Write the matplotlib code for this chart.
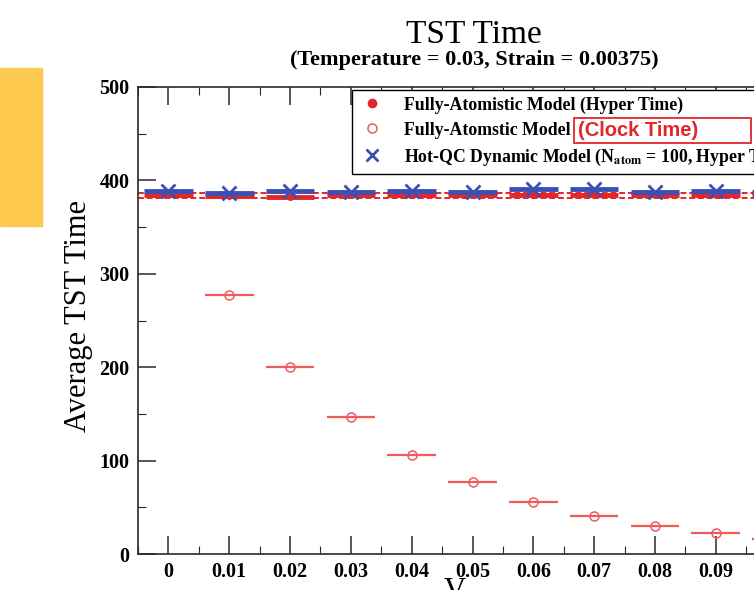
import numpy as np
import matplotlib.pyplot as plt
from matplotlib.patches import Rectangle
from matplotlib.ticker import MultipleLocator

# data
v = [0.0, 0.01, 0.02, 0.03, 0.04, 0.05, 0.06, 0.07, 0.08, 0.09, 0.10]
hyper_time = [384, 383, 382, 384, 384, 384, 384, 384, 384, 384, 384]
clock_v = [0.01, 0.02, 0.03, 0.04, 0.05, 0.06, 0.07, 0.08, 0.09, 0.10]
clock_time = [277, 200, 147, 106, 77, 56, 41, 30, 22, 16]
qc_time = [389, 387, 389, 388, 389, 388, 391, 391, 388, 389, 388]
band = [381, 386]
half_bin = 0.004
xtick_labels = ['0', '0.01', '0.02', '0.03', '0.04', '0.05', '0.06',
                '0.07', '0.08', '0.09']

red = '#e3262a'
red_light = '#f05a5a'
blue = '#3b50b4'
axis_col = '#2a2a2a'

plt.rcParams['font.family'] = ['Liberation Serif', 'DejaVu Serif']
plt.rcParams['mathtext.fontset'] = 'stix'
fig = plt.figure(figsize=(7.54, 5.90), dpi=100)

# yellow slide decoration
fig.patches.append(Rectangle((0, 1 - 226 / 590), 42 / 754, 158 / 590,
                             transform=fig.transFigure, color='#fdc94f', zorder=0))

ax = fig.add_axes([138 / 754, 36 / 590, 669 / 754, 467 / 590])

for y in band:
    ax.axhline(y, color=red, ls=(0, (3, 1.5)), lw=1.4, zorder=2)

ax.errorbar(v, hyper_time, xerr=half_bin, fmt='o', color=red, ms=4,
            elinewidth=3.5, capsize=0, zorder=3)
ax.errorbar(v, qc_time, xerr=half_bin, fmt='x', color=blue, ms=10, mew=2,
            elinewidth=3.5, capsize=0, zorder=4)
ax.errorbar(clock_v, clock_time, xerr=half_bin, fmt='o', color=red_light,
            mfc='none', ms=6.5, mew=1.1, elinewidth=1.6, capsize=0, zorder=3)

ax.set_xlim(-0.005, 0.105)
ax.set_ylim(0, 500)
ax.xaxis.set_major_locator(MultipleLocator(0.01))
ax.xaxis.set_minor_locator(MultipleLocator(0.005))
ax.yaxis.set_major_locator(MultipleLocator(100))
ax.yaxis.set_minor_locator(MultipleLocator(50))
ax.tick_params(which='both', direction='in', top=True, right=True, color=axis_col)
ax.tick_params(which='major', length=13, width=1.1)
ax.tick_params(which='minor', length=6, width=0.8)
ax.tick_params(axis='both', labelsize=14.5, pad=6)
ax.set_xticks(v[:10])
ax.set_xticklabels(xtick_labels)
for lab in ax.get_xticklabels() + ax.get_yticklabels():
    lab.set_fontweight('bold')
for sp in ax.spines.values():
    sp.set_linewidth(1.2)
    sp.set_color(axis_col)

ax.set_ylabel('Average TST Time', fontsize=22)
ax.yaxis.set_label_coords(-0.068, 0.51)
ax.set_xlabel('V', fontsize=22)
ax.xaxis.set_label_coords(0.474, -0.05)

fig.text(474 / 754, 1 - 35 / 590, 'TST Time', ha='center', va='center', fontsize=24)
fig.text(474 / 754, 1 - 60 / 590, '(Temperature = 0.03, Strain = 0.00375)',
         ha='center', va='center', fontsize=16, fontweight='bold')

# legend
h1, = ax.plot([], [], 'o', color=red, ms=6)
h2, = ax.plot([], [], 'o', color=red_light, mfc='none', ms=6.5, mew=1.1)
h3, = ax.plot([], [], 'x', color=blue, ms=9, mew=2)
leg = ax.legend([h1, h2, h3],
                ['Fully-Atomistic Model (Hyper Time)',
                 'Fully-Atomstic Model',
                 r'Hot-QC Dynamic Model (N$_{\mathbf{atom}}$ = 100, Hyper Time)'],
                loc='upper left', bbox_to_anchor=(214 / 669, 1 - 3 / 467),
                prop={'weight': 'bold', 'size': 12.8}, frameon=True,
                fancybox=False, edgecolor='black', framealpha=1,
                borderpad=0.35, labelspacing=0.45, handletextpad=1.1,
                handlelength=1.5, borderaxespad=0)
leg.get_frame().set_linewidth(1.0)

fig.canvas.draw()
txt = leg.get_texts()[1]
bb = txt.get_window_extent()
inv = fig.transFigure.inverted()
x0, y0 = inv.transform((bb.x1 + 7, (bb.y0 + bb.y1) / 2))
fig.text(x0, y0, '(Clock Time)', color=red, fontsize=14.5, fontweight='bold',
         family=['Liberation Sans', 'DejaVu Sans'], ha='left', va='center')
bw, bh = 177 / 754, 25 / 590
fig.patches.append(Rectangle((x0 - 4 / 754, y0 - bh / 2), bw, bh,
                             transform=fig.transFigure, fill=False,
                             ec=red, lw=1.3, zorder=5))

fig.savefig('out.png', dpi=100)
